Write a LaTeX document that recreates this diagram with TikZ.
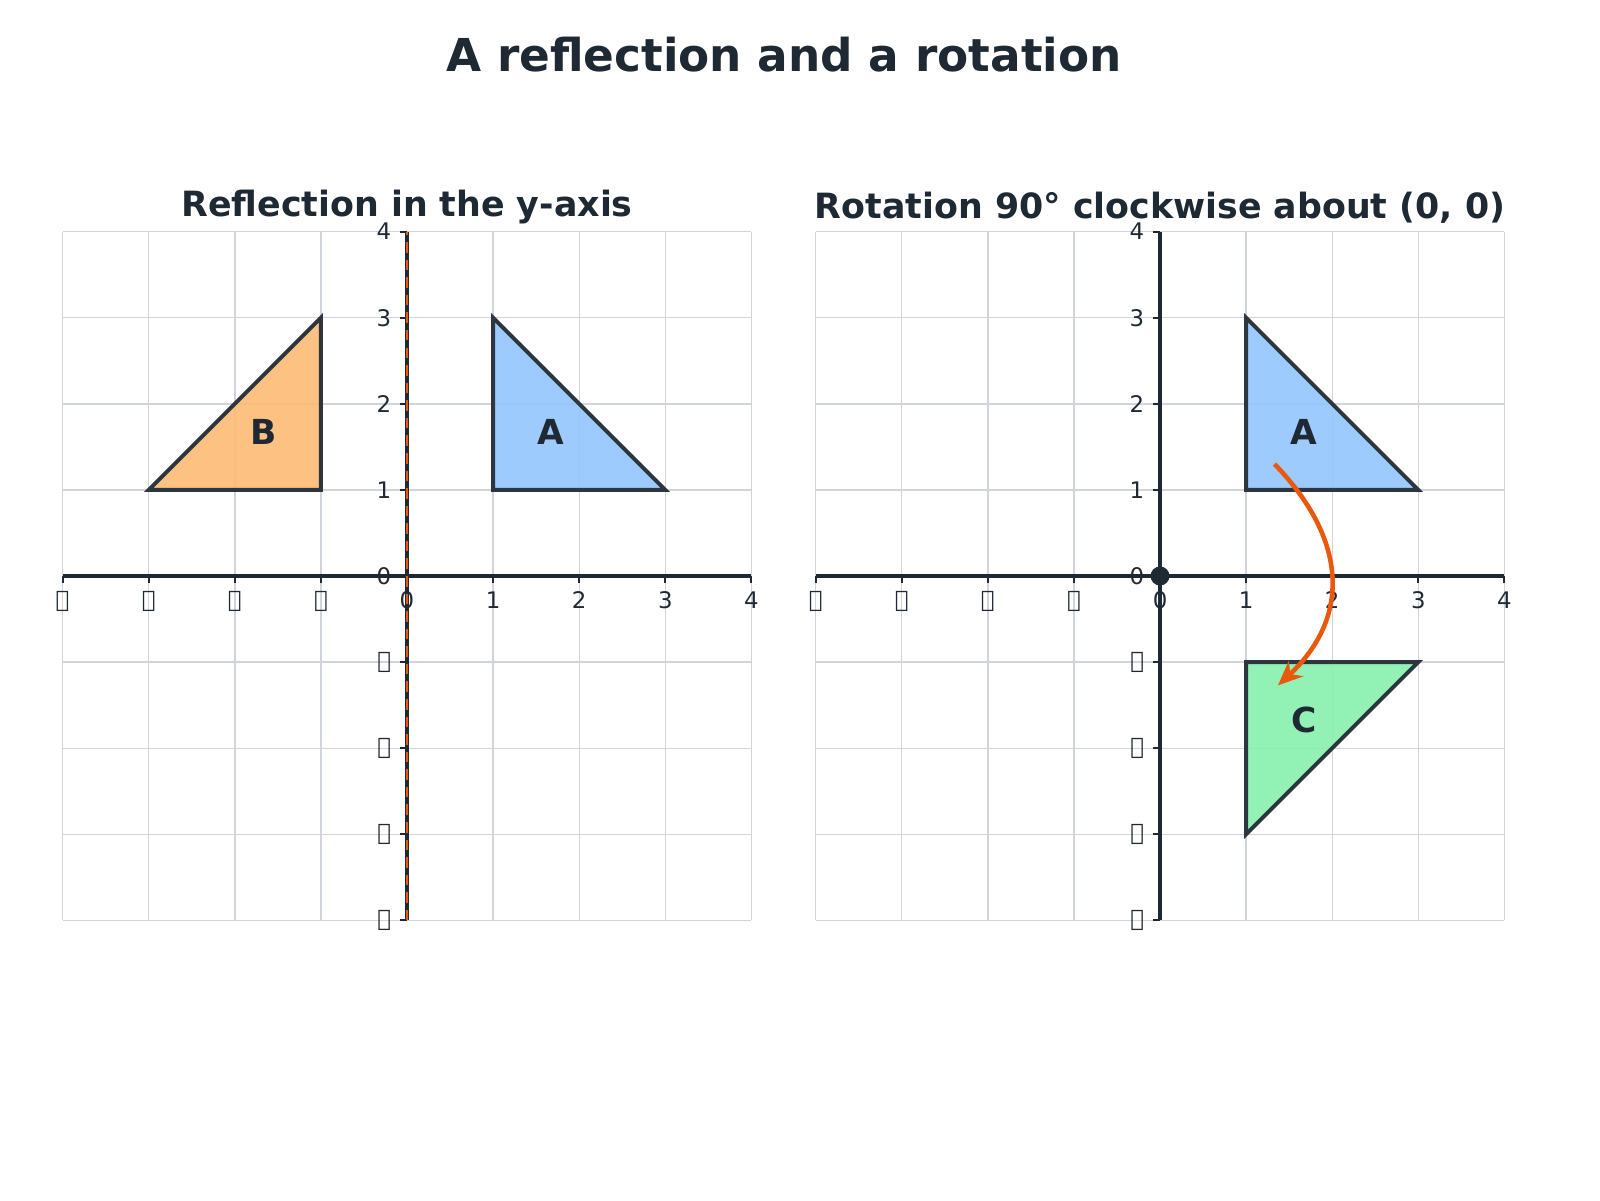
\documentclass[tikz,border=0pt]{standalone}
\usepackage{fontspec}
\setmainfont{DejaVu Sans}
\usetikzlibrary{arrows.meta}
\definecolor{ink}{HTML}{1F2933}
\definecolor{gridc}{HTML}{D1D5DB}
\definecolor{orng}{HTML}{FDBA74}
\definecolor{blu}{HTML}{93C5FD}
\definecolor{grn}{HTML}{86EFAC}
\definecolor{arr}{HTML}{EA580C}
\tikzset{
  gridline/.style={gridc, line width=0.4pt},
  axis/.style={ink, line width=1pt},
  tick/.style={font=\fontsize{6.5}{7}\selectfont, text=ink},
  triangle/.style={draw=ink!85!gray, line width=1.1pt, line join=miter, fill opacity=0.9},
  tri/.style={font=\bfseries\fontsize{9.8}{11}\selectfont, text=ink},
  subtitle/.style={font=\bfseries\fontsize{9.9}{11}\selectfont, text=ink},
}
\newcommand{\tlab}[1]{\ifnum#1<0 \char"2212\number-#1\else#1\fi}
\newcommand{\panel}{%
  \draw[gridline] (-4,-4) grid (4,4);
  \draw[axis] (-4,0) -- (4,0);
  \draw[axis] (0,-4) -- (0,4);
  \foreach \k in {-4,...,4}{
    \draw[axis, line width=0.6pt] (\k,0) -- (\k,-0.08);
    \node[tick, below] at (\k,-0.04) {\tlab{\k}};
    \draw[axis, line width=0.6pt] (0,\k) -- (-0.08,\k);
    \node[tick, left] at (-0.04,\k) {\tlab{\k}};
  }
}
\begin{document}
\begin{tikzpicture}
\useasboundingbox (0,0) rectangle (16,12);
\node[font=\bfseries\fontsize{12.9}{15}\selectfont, text=ink] (title) at (7.84,11.45) {A reflection and a rotation};

% left panel: reflection
\begin{scope}[shift={(4.07,6.24)}, scale=0.861]
  \panel
  \draw[arr, line width=0.5pt, dash pattern=on 3pt off 2pt] (0,-4) -- (0,4);
  \node[subtitle] (sub1) at (0,4.28) {Reflection in the y-axis};
  \draw[triangle, fill=orng] (-1,1) -- (-1,3) -- (-3,1) -- cycle;
  \draw[triangle, fill=blu] (1,1) -- (1,3) -- (3,1) -- cycle;
  \node[tri] (B) at (-1.67,1.67) {B};
  \node[tri] (A) at (1.67,1.67) {A};
\end{scope}

% right panel: rotation
\begin{scope}[shift={(11.60,6.24)}, scale=0.861]
  \panel
  \node[subtitle] (sub2) at (0,4.28) {Rotation 90° clockwise about (0, 0)};
  \draw[triangle, fill=blu] (1,1) -- (1,3) -- (3,1) -- cycle;
  \draw[triangle, fill=grn] (1,-1) -- (3,-1) -- (1,-3) -- cycle;
  \node[tri] (A2) at (1.67,1.67) {A};
  \node[tri] (C) at (1.67,-1.67) {C};
  \fill[ink] (0,0) circle (0.11);
  \coordinate (s) at (1.33,1.3);
  \coordinate (e) at (1.37,-1.27);
  \draw[arr, line width=1.3pt, -{Stealth[length=7pt,width=6pt]}] (s) .. controls (2.2,0.4) and (2.2,-0.5) .. (e);
\end{scope}
\end{tikzpicture}
\end{document}
